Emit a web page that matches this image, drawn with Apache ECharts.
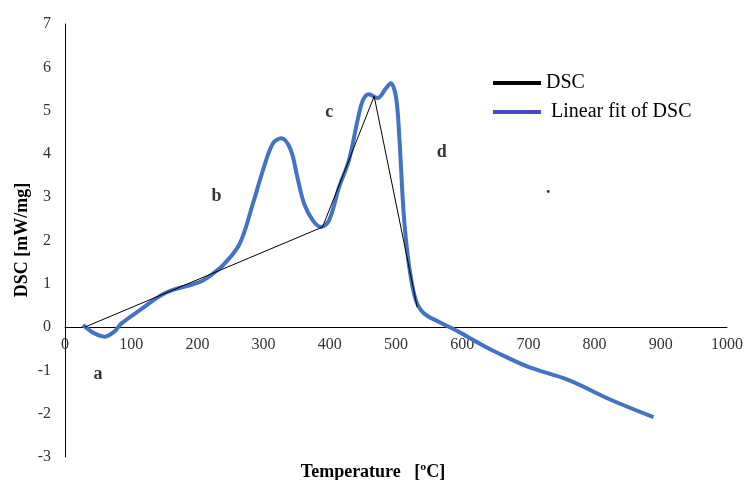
<!DOCTYPE html>
<html>
<head>
<meta charset="utf-8">
<script src="https://cdn.jsdelivr.net/npm/echarts@6/dist/echarts.min.js"></script>
<style>
  html, body { margin: 0; padding: 0; background: #fff; }
  #chart { width: 746px; height: 480px; }
</style>
</head>
<body>
<div id="chart"></div>
<script>
// thick blue curve, [temperature, dsc]
var curveData = [
  [27, 0.05], [45, -0.15], [60, -0.22], [75, -0.1], [85, 0.08], [113, 0.39],
  [153, 0.8], [203, 1.04], [225, 1.25], [240, 1.45], [264, 1.93], [284, 2.86],
  [299, 3.62], [314, 4.24], [327, 4.36], [341, 4.09], [351, 3.46], [361, 2.86],
  [374, 2.47], [387, 2.31], [399, 2.47], [414, 3.23], [429, 3.86], [442, 4.78],
  [450, 5.24], [459, 5.38], [472, 5.29], [485, 5.52], [492, 5.63], [500, 5.31],
  [505, 4.39], [512, 2.54], [520, 1.39], [530, 0.62], [542, 0.32], [565, 0.12],
  [595, -0.11], [625, -0.37], [650, -0.57], [700, -0.92], [760, -1.22], [826, -1.69], [889, -2.08]
];
// thin black baseline polyline
var baseData = [[30, 0], [389, 2.31], [467, 5.33], [532, 0.46]];
// region letters
var letters = [['a', 50, -1.09], ['b', 229, 3.03], ['c', 399, 4.97], ['d', 569, 4.04], ['.', 730, 3.2]];

var xTicks = { min: 0, max: 1000, step: 100 };
var yTicks = { min: -3, max: 7, step: 1 };

var serif = 'Liberation Serif';
var chart = echarts.init(document.getElementById('chart'));

var option = {
  animation: false,
  grid: { left: 65, right: 17, top: 24, bottom: 23 },
  legend: {
    orient: 'vertical',
    left: 488,
    top: 68,
    icon: 'rect',
    itemWidth: 48,
    itemHeight: 4,
    itemGap: 9,
    textStyle: { fontFamily: serif, fontSize: 20, color: '#000' },
    formatter: function (n) { return n === 'DSC' ? n : ' ' + n; },
    data: [
      { name: 'DSC', itemStyle: { color: '#000' } },
      { name: 'Linear fit of DSC', itemStyle: { color: '#4848c8' } }
    ]
  },
  xAxis: {
    type: 'value',
    min: xTicks.min, max: xTicks.max, interval: xTicks.step,
    offset: -130,   // sits on y = 0
    axisLine: { onZero: false, lineStyle: { color: '#000', width: 1 } },
    axisTick: { show: false },
    splitLine: { show: false },
    axisLabel: {
      fontFamily: serif, fontSize: 16, color: '#333', margin: 10, showMaxLabel: true,
      formatter: function (v) { return String(v); }
    }
  },
  yAxis: {
    type: 'value',
    min: yTicks.min, max: yTicks.max, interval: yTicks.step,
    axisLine: { show: true, onZero: false, lineStyle: { color: '#000', width: 1 } },
    axisTick: { show: false },
    splitLine: { show: false },
    axisLabel: { fontFamily: serif, fontSize: 16, color: '#333', margin: 14 }
  },
  series: [
    {
      name: 'Linear fit of DSC',
      type: 'line',
      data: curveData,
      smooth: 0.35,
      showSymbol: false,
      lineStyle: { color: '#4472c4', width: 4 },
      itemStyle: { color: '#4472c4' },
      z: 2
    },
    {
      name: 'DSC',
      type: 'line',
      data: baseData,
      showSymbol: false,
      lineStyle: { color: '#000', width: 1 },
      itemStyle: { color: '#000' },
      z: 3
    },
    {
      type: 'scatter',
      data: letters.map(function (l) { return { name: l[0], value: [l[1], l[2]] }; }),
      symbolSize: 0,
      label: {
        show: true,
        position: 'inside',
        formatter: '{b}',
        fontFamily: serif,
        fontSize: 18,
        fontWeight: 'bold',
        color: '#000'
      },
      z: 4
    }
  ],
  graphic: [
    {
      type: 'text', left: 'center', top: 463,
      style: { text: 'Temperature   [ºC]', font: 'bold 18px "Liberation Serif"', fill: '#000' }
    },
    {
      type: 'text', x: 22, y: 240, rotation: Math.PI / 2,
      style: { text: 'DSC [mW/mg]', font: 'bold 18px "Liberation Serif"', fill: '#000', align: 'center', verticalAlign: 'middle' }
    }
  ]
};
chart.setOption(option);
</script>
</body>
</html>
